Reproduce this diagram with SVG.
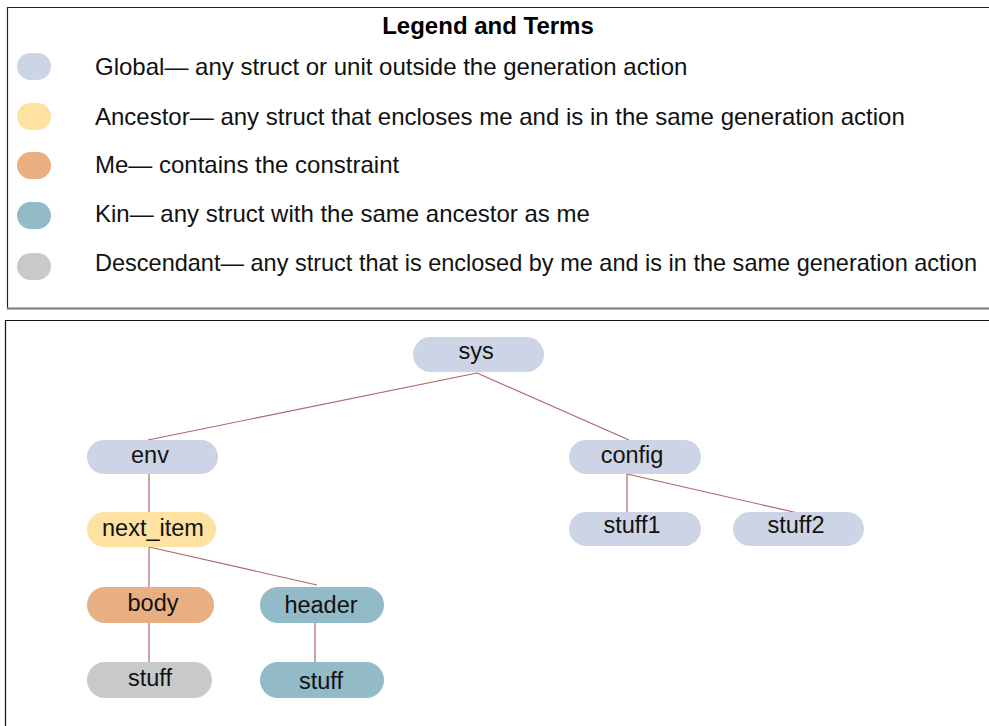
<svg xmlns="http://www.w3.org/2000/svg" width="989" height="726" viewBox="0 0 989 726">
  <style>
    .lbl { font-family: "Liberation Sans", Arial, sans-serif; font-size: 24px; fill: #111; }
    .title { font-family: "Liberation Sans", Arial, sans-serif; font-size: 24px; font-weight: bold; fill: #000; }
    .node text { font-family: "Liberation Sans", Arial, sans-serif; font-size: 23.5px; fill: #111; text-anchor: middle; }
    .global { fill: #cdd4e6; }
    .ancestor { fill: #fde2a2; }
    .me { fill: #e8af82; }
    .kin { fill: #93bac7; }
    .desc { fill: #c8c9cb; }
    .edge { stroke: #b06666; stroke-width: 1.2; fill: none; }
  </style>
  <rect width="989" height="726" fill="#ffffff"/>

  <!-- legend panel -->
  <g id="legend">
    <path d="M7.5 309 V7.5 H995" fill="none" stroke="#222" stroke-width="1.2"/>
    <line x1="7" y1="308.5" x2="995" y2="308.5" stroke="#777" stroke-width="2"/>
    <text class="title" x="488" y="34" text-anchor="middle">Legend and Terms</text>
    <rect class="global" x="17" y="53" width="34" height="27" rx="13.5"/>
    <text class="lbl" x="95" y="75">Global— any struct or unit outside the generation action</text>
    <rect class="ancestor" x="17" y="103" width="34" height="27" rx="13.5"/>
    <text class="lbl" x="95" y="125">Ancestor— any struct that encloses me and is in the same generation action</text>
    <rect class="me" x="17" y="152" width="34" height="27" rx="13.5"/>
    <text class="lbl" x="95" y="173">Me— contains the constraint</text>
    <rect class="kin" x="17" y="202" width="34" height="27" rx="13.5"/>
    <text class="lbl" x="95" y="222">Kin— any struct with the same ancestor as me</text>
    <rect class="desc" x="17" y="253" width="34" height="27" rx="13.5"/>
    <text class="lbl" x="95" y="271" style="font-size:23.2px" textLength="882" lengthAdjust="spacingAndGlyphs">Descendant— any struct that is enclosed by me and is in the same generation action</text>
  </g>

  <!-- tree panel -->
  <path d="M5.5 730 V320.5 H995" fill="none" stroke="#111" stroke-width="1.2"/>

  <g id="connectors">
    <line class="edge" x1="477" y1="373" x2="148" y2="440"/>
    <line class="edge" x1="477" y1="373" x2="629" y2="440"/>
    <line class="edge" x1="149" y1="473" x2="149" y2="512"/>
    <line class="edge" x1="149" y1="547" x2="149" y2="587"/>
    <line class="edge" x1="149" y1="547" x2="317" y2="585"/>
    <line class="edge" x1="149" y1="622" x2="149" y2="662"/>
    <line class="edge" x1="315" y1="622" x2="315" y2="662"/>
    <line class="edge" x1="627" y1="474" x2="627" y2="512"/>
    <line class="edge" x1="627" y1="474" x2="798" y2="513"/>
  </g>

  <g id="sys" class="node">
    <rect class="global" x="413" y="337" width="131" height="35" rx="17.5"/>
    <text x="476" y="359">sys</text>
  </g>
  <g id="env" class="node">
    <rect class="global" x="87" y="440" width="131" height="34" rx="17"/>
    <text x="150" y="463">env</text>
  </g>
  <g id="config" class="node">
    <rect class="global" x="569" y="440" width="132" height="34" rx="17"/>
    <text x="632" y="463">config</text>
  </g>
  <g id="next_item" class="node">
    <rect class="ancestor" x="87" y="512" width="129" height="35" rx="17.5"/>
    <text x="153" y="536">next_item</text>
  </g>
  <g id="stuff1" class="node">
    <rect class="global" x="569" y="512" width="132" height="34" rx="17"/>
    <text x="632" y="533">stuff1</text>
  </g>
  <g id="stuff2" class="node">
    <rect class="global" x="733" y="512" width="131" height="34" rx="17"/>
    <text x="796" y="533">stuff2</text>
  </g>
  <g id="body" class="node">
    <rect class="me" x="87" y="587" width="127" height="36" rx="18"/>
    <text x="153" y="611">body</text>
  </g>
  <g id="header" class="node">
    <rect class="kin" x="260" y="587" width="124" height="36" rx="18"/>
    <text x="321" y="613">header</text>
  </g>
  <g id="body_stuff" class="node">
    <rect class="desc" x="87" y="662" width="125" height="36" rx="18"/>
    <text x="150" y="686">stuff</text>
  </g>
  <g id="header_stuff" class="node">
    <rect class="kin" x="260" y="662" width="124" height="36" rx="18"/>
    <text x="321" y="689">stuff</text>
  </g>
</svg>
